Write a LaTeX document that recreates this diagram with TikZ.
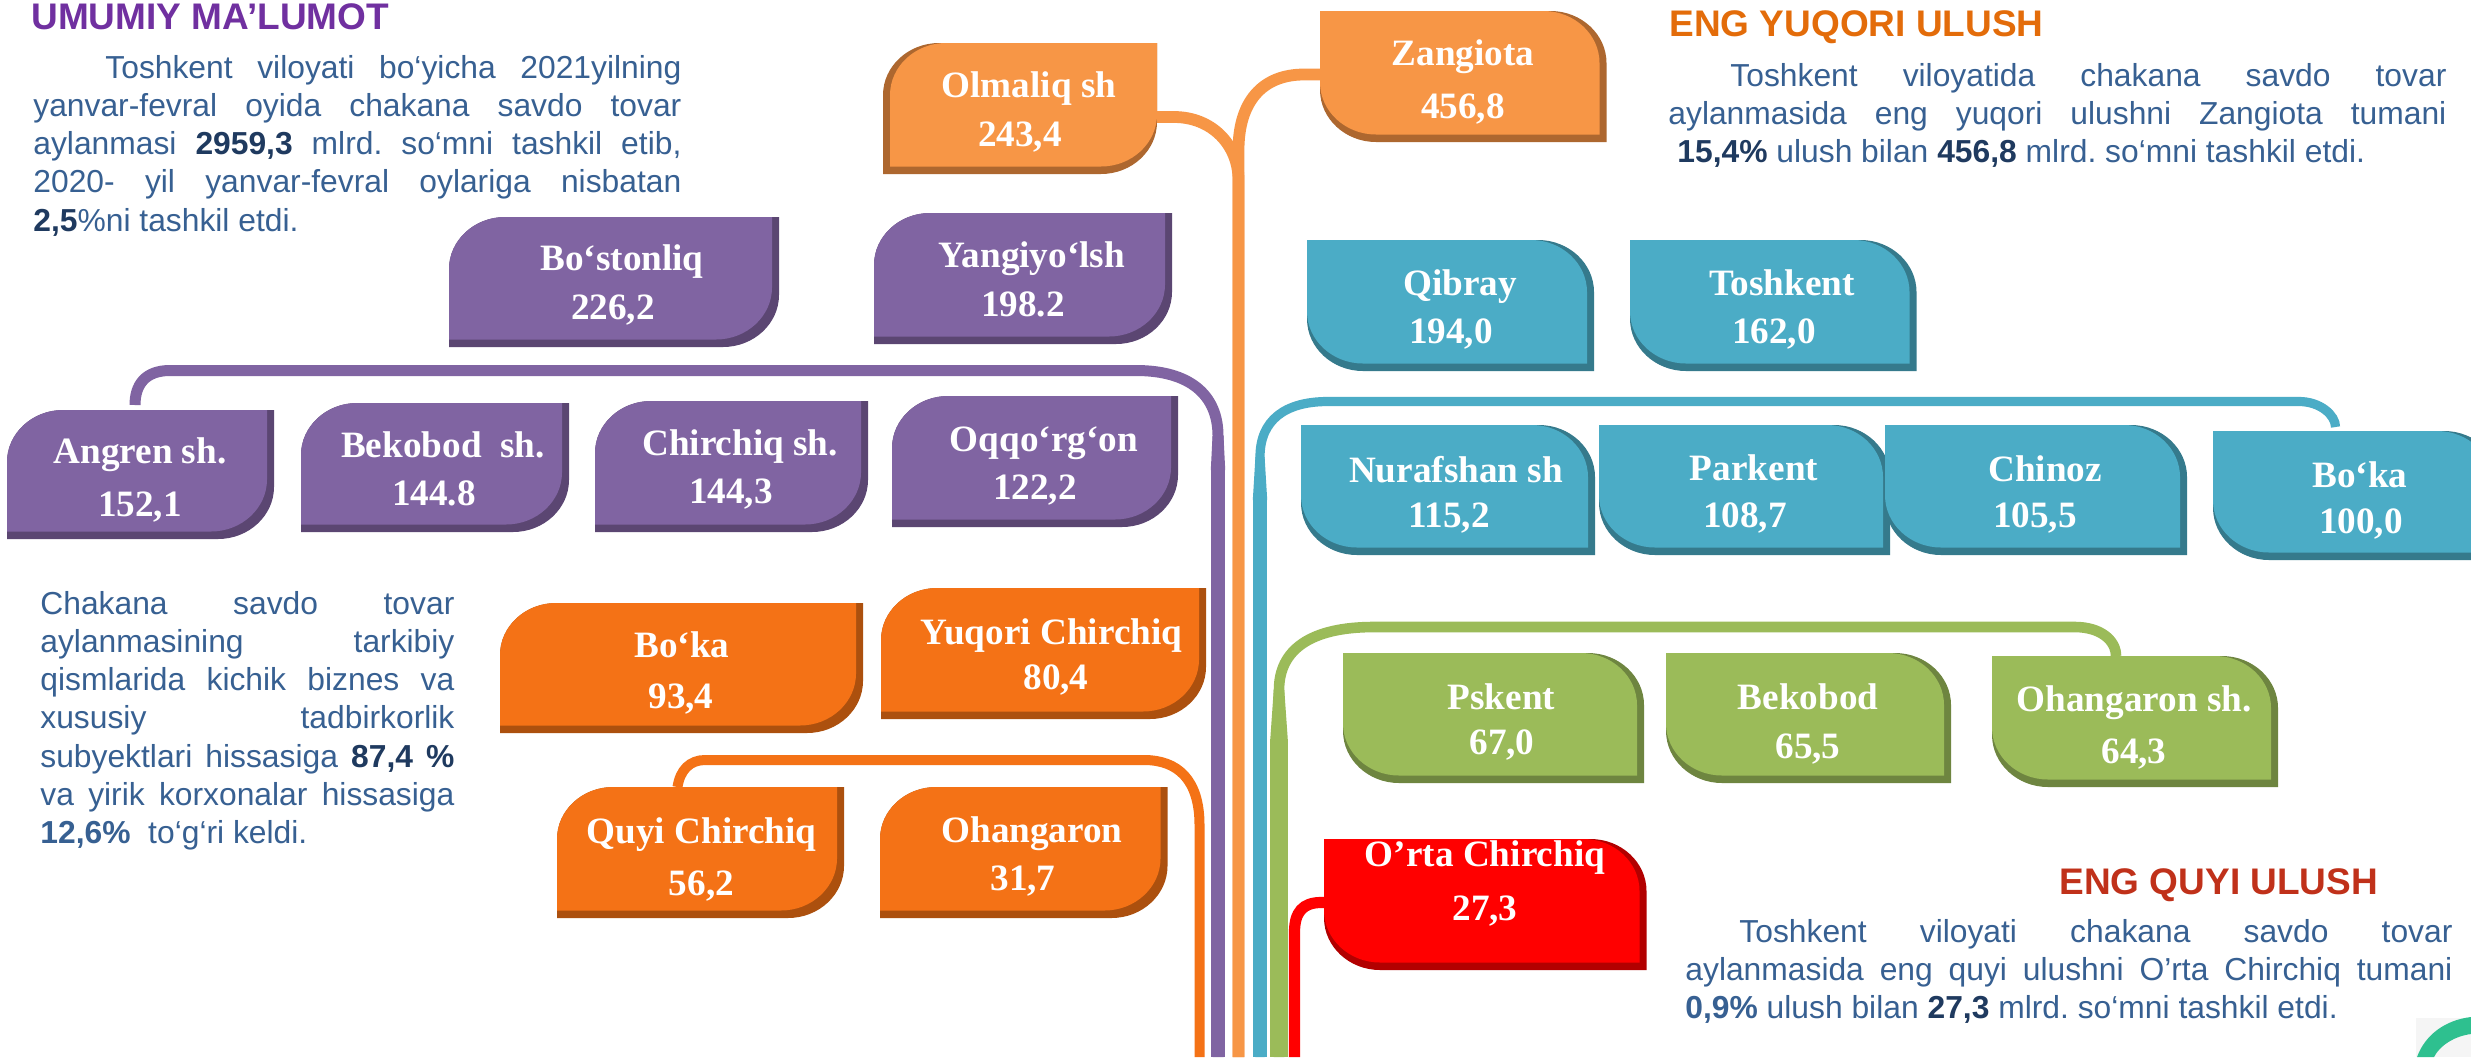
\documentclass[tikz,border=0pt]{standalone}
\usepackage{fontspec}
\setmainfont{Liberation Serif}
\newfontfamily\arialf{Liberation Sans}
\definecolor{pMain}{HTML}{8064A2}\definecolor{pDark}{HTML}{5B4672}
\definecolor{oMain}{HTML}{F79646}\definecolor{oDark}{HTML}{AD672F}
\definecolor{bMain}{HTML}{4BACC6}\definecolor{bDark}{HTML}{357A8C}
\definecolor{dMain}{HTML}{F47216}\definecolor{dDark}{HTML}{AC500E}
\definecolor{gMain}{HTML}{9BBB59}\definecolor{gDark}{HTML}{6E8540}
\definecolor{rMain}{HTML}{FF0000}\definecolor{rDark}{HTML}{B20000}
\definecolor{bodyc}{HTML}{376092}\definecolor{boldc}{HTML}{1F3A5F}
\definecolor{headp}{HTML}{7030A0}\definecolor{heado}{HTML}{E36C0A}\definecolor{headr}{HTML}{C0311A}
\definecolor{logog}{HTML}{2EC08F}
\frenchspacing
\newlength{\jw}
\newcommand{\jl}[1]{\makebox[\jw][s]{#1}\par}
\newcommand{\lines}[1]{\vtop{\hsize=\jw\parindent=0pt\parskip=0pt #1}}
\newcommand{\bb}[1]{{\bfseries\color{boldc}#1}}
\newcommand{\rx}{56}\newcommand{\ry}{52}
% TL+BR rounded
\newcommand{\shA}[4]{({#1+\rx},#2) -- (#3,#2) -- (#3,{#4-\ry}) .. controls (#3,{#4-.45*\ry}) and ({#3-.45*\rx},#4) .. ({#3-\rx},#4) -- (#1,#4) -- (#1,{#2+\ry}) .. controls (#1,{#2+.45*\ry}) and ({#1+.45*\rx},#2) .. cycle}
% TR+BL rounded
\newcommand{\shB}[4]{(#1,#2) -- ({#3-\rx},#2) .. controls ({#3-.45*\rx},#2) and (#3,{#2+.45*\ry}) .. (#3,{#2+\ry}) -- (#3,#4) -- ({#1+\rx},#4) .. controls ({#1+.45*\rx},#4) and (#1,{#4-.45*\ry}) .. (#1,{#4-\ry}) -- cycle}
\newcommand{\anchorbox}[5]{\node[holder,minimum width={(#4-#2)*0.5pt},minimum height={(#5-#3)*0.5pt}] (#1) at ({(#2+#4)/2},{(#3+#5)/2}) {};}
\newcommand{\boxR}[6]{\fill[#6Dark] \shA{#2}{#3}{#4}{#5}; \fill[#6Main] \shA{#2}{#3}{#4-7}{#5-7.5}; \anchorbox{#1}{#2}{#3}{#4}{#5}}
\newcommand{\boxL}[6]{\fill[#6Dark] \shA{#2}{#3}{#4}{#5}; \fill[#6Main] \shA{#2+7}{#3}{#4}{#5-7.5}; \anchorbox{#1}{#2}{#3}{#4}{#5}}
\newcommand{\boxT}[6]{\fill[#6Dark] \shB{#2}{#3}{#4}{#5}; \fill[#6Main] \shB{#2}{#3}{#4-7}{#5-7.5}; \anchorbox{#1}{#2}{#3}{#4}{#5}}
\newcommand{\lab}[7]{\node[boxtext] (#1-t) at (#2,#3) {#6}; \node[boxtext] (#1-v) at (#4,#5) {#7};}
\tikzset{
 x=0.5pt,y=-0.5pt,
 holder/.style={inner sep=0pt,outer sep=0pt,draw=none,fill=none,rectangle},
 boxtext/.style={anchor=base,inner sep=0pt,text=white,font=\fontsize{18.6}{22}\bfseries\selectfont},
 link/.style={line width=5.5pt},
 head/.style={anchor=base west,inner sep=0pt,font=\arialf\fontsize{18.5}{22}\bfseries\selectfont},
 body/.style={anchor=base west,inner sep=0pt,text=bodyc,font=\arialf\fontsize{15.9}{19.15}\selectfont},
}
\begin{document}
\begin{tikzpicture}
\useasboundingbox (0,0) rectangle (2471,1057);
\clip (0,0) rectangle (2471,1057);
\fill[white] (0,0) rectangle (2471,1057);
% connector ends
\coordinate (endP) at (1218,1057);
\coordinate (endO) at (1238.5,1057);
\coordinate (endB) at (1260,1057);
\coordinate (endG) at (1279,1057);
\coordinate (endR) at (1294.5,1057);
\coordinate (endD) at (1199.5,1057);
\coordinate (midP) at (1218,469);
\coordinate (midB) at (1260,499);
\coordinate (midG) at (1279,739);
% boxes
\boxR{bostonliq}{449}{217}{779}{347}{p}
\boxR{angren}{7}{410}{274}{539}{p}
\boxR{bekobodsh}{301}{403}{569}{532}{p}
\boxR{chirchiqsh}{595}{401}{868}{532}{p}
\boxR{oqqorgon}{892}{396}{1178}{527}{p}
\boxR{yangiyol}{874}{213}{1172}{344}{p}
\boxL{olmaliq}{883}{43}{1157}{174}{o}
\boxT{zangiota}{1320}{11}{1606.5}{142}{o}
\boxT{qibray}{1307}{240}{1594}{371}{b}
\boxT{toshkent}{1630}{240}{1916.5}{371}{b}
\boxT{nurafshan}{1301}{425}{1595}{555}{b}
\boxT{parkent}{1599}{425}{1890}{555}{b}
\boxT{chinoz}{1885}{425}{2187}{555}{b}
\boxT{bokab}{2213}{431}{2500}{560}{b}
\boxR{bokad}{500}{603}{863}{733}{d}
\boxR{yuqori}{881}{588}{1206}{719}{d}
\boxR{quyi}{557}{787}{844}{918}{d}
\boxR{ohangaron}{880}{787}{1167.5}{918}{d}
\boxT{pskent}{1343}{653}{1644}{783}{g}
\boxT{bekobod}{1666}{653}{1951}{783}{g}
\boxT{ohangsh}{1992}{656}{2278}{787}{g}
\boxT{orta}{1324}{839}{1646.5}{970}{r}
% connectors
\draw[link,pMain] ([xshift=-2.75pt,yshift=2.5pt]angren.north) .. controls (135,385) and (145,370.5) .. (170,370.5) -- (1136,370.5) .. controls (1190,370.5) and (1218,395) .. (1218,436) -- (endP);
\fill[pMain] (1212.5,436) -- (1223.5,436) -- (1225.2,470) -- (1210.8,470) -- cycle;
\draw[line width=7.2pt,pMain] (midP) -- (endP);
\draw[link,oMain,line width=5.9pt] ([yshift=-4.25pt]olmaliq.east) -- (1174,117) .. controls (1212,117) and (1238.5,145) .. (1238.5,180) -- (endO);
\draw[link,oMain,line width=5.9pt] ([yshift=1pt]zangiota.west) -- (1304,74.5) .. controls (1262,74.5) and (1238.5,102) .. (1238.5,150) -- (endO);
\draw[link,bMain,line width=4.6pt] ([xshift=-10.5pt,yshift=2pt]bokab.north) .. controls (2335.5,415) and (2320,401.5) .. (2299,401.5) -- (1328,401.5) .. controls (1285,401.5) and (1260,420) .. (1260,457) -- (endB);
\fill[bMain] (1255.4,457) -- (1264.6,457) -- (1267.2,500) -- (1252.8,500) -- cycle;
\draw[line width=7.2pt,bMain] (midB) -- (endB);
\draw[link,gMain,line width=5.3pt] ([xshift=-9.5pt]ohangsh.north) .. controls (2116,640) and (2100,627) .. (2075,627) -- (1374,627) .. controls (1310,627) and (1279,650) .. (1279,690) -- (endG);
\fill[gMain] (1273.7,690) -- (1284.3,690) -- (1287.8,740) -- (1270.2,740) -- cycle;
\draw[line width=8.8pt,gMain] (midG) -- (endG);
\draw[link,rMain,line width=5.6pt] ([yshift=1pt]orta.west) -- (1321,902.5) .. controls (1303,902.5) and (1294.5,912) .. (1294.5,932) -- (endR);
\draw[link,dMain,line width=5pt] ([xshift=-11.5pt]quyi.north) .. controls (680,770) and (690,760) .. (705,760) -- (1144,760) .. controls (1178,760) and (1199.5,780) .. (1199.5,825) -- (endD);
% box labels
\lab{bostonliq}{622}{270}{613}{319}{Bo‘stonliq}{226,2}
\lab{angren}{140}{463}{140}{516}{Angren sh.}{152,1}
\lab{bekobodsh}{443}{457}{434}{505}{Bekobod\ \ sh.}{144.8}
\lab{chirchiqsh}{740}{455}{731}{503.5}{Chirchiq sh.}{144,3}
\lab{oqqorgon}{1044}{451}{1035}{499}{Oqqo‘rg‘on}{122,2}
\lab{yangiyol}{1032}{267}{1023}{316}{Yangiyo‘lsh}{198.2}
\lab{olmaliq}{1029}{97}{1020}{146}{Olmaliq sh}{243,4}
\lab{zangiota}{1463}{65}{1463}{118}{Zangiota}{456,8}
\lab{qibray}{1460}{295}{1451}{343.5}{Qibray}{194,0}
\lab{toshkent}{1782}{295}{1774}{343.5}{Toshkent}{162,0}
\lab{nurafshan}{1456}{482}{1449}{527}{Nurafshan sh}{115,2}
\lab{parkent}{1754}{480}{1745}{527.5}{Parkent}{108,7}
\lab{chinoz}{2045}{481}{2035}{527}{Chinoz}{105,5}
\lab{bokab}{2360}{487.5}{2361}{533}{Bo‘ka}{100,0}
\lab{bokad}{682}{657}{681}{708}{Bo‘ka}{93,4}
\lab{yuqori}{1051.5}{644}{1056}{689}{Yuqori Chirchiq}{80,4}
\lab{quyi}{701.5}{843}{701.5}{895}{Quyi Chirchiq}{56,2}
\lab{ohangaron}{1032}{842}{1023}{890}{Ohangaron}{31,7}
\lab{pskent}{1501.5}{709}{1502}{754}{Pskent}{67,0}
\lab{bekobod}{1808}{709}{1808}{758}{Bekobod}{65,5}
\lab{ohangsh}{2134}{711}{2134}{763}{Ohangaron sh.}{64,3}
\lab{orta}{1485}{866}{1485}{920}{O’rta Chirchiq}{27,3}
% headings
\node[head,text=headp] (h1) at (31,29) {UMUMIY MA’LUMOT};
\node[head,text=heado] (h2) at (1669,36) {ENG YUQORI ULUSH};
\node[head,text=headr] (h3) at (2059,894) {ENG QUYI ULUSH};
% paragraphs
\setlength{\jw}{324pt}
\node[body] (p1) at (33,78) {\lines{\jl{\hspace*{36pt}Toshkent viloyati bo‘yicha 2021yilning}\jl{yanvar-fevral oyida chakana savdo tovar}\jl{aylanmasi \bb{2959,3} mlrd. so‘mni tashkil etib,}\jl{2020- yil yanvar-fevral oylariga nisbatan}\bb{2,5}\%ni tashkil etdi.}};
\setlength{\jw}{207pt}
\node[body] (p2) at (40,614) {\lines{\jl{Chakana savdo tovar}\jl{aylanmasining tarkibiy}\jl{qismlarida kichik biznes va}\jl{xususiy tadbirkorlik}\jl{subyektlari hissasiga \bb{87,4 \%}}\jl{va yirik korxonalar hissasiga}{\bfseries 12,6\%}\ \ to‘g‘ri keldi.}};
\setlength{\jw}{389pt}
\node[body] (p3) at (1668,86) {\lines{\jl{\hspace*{31pt}Toshkent viloyatida chakana savdo tovar}\jl{aylanmasida eng yuqori ulushni Zangiota tumani}\hspace*{4.5pt}\bb{15,4\%} ulush bilan \bb{456,8} mlrd. so‘mni tashkil etdi.}};
\setlength{\jw}{383.5pt}
\node[body] (p4) at (1685,942) {\lines{\jl{\hspace*{27pt}Toshkent viloyati chakana savdo tovar}\jl{aylanmasida eng quyi ulushni O’rta Chirchiq tumani}{\bfseries 0,9\%} ulush bilan \bb{27,3} mlrd. so‘mni tashkil etdi.}};
% corner logo fragment
\fill[black!4] (2416,1018) rectangle (2471,1057);
\fill[logog] (2417,1057) .. controls (2425,1035) and (2445,1020) .. (2471,1017) -- (2471,1034) .. controls (2455,1036) and (2440,1045) .. (2434,1057) -- cycle;
\end{tikzpicture}
\end{document}
